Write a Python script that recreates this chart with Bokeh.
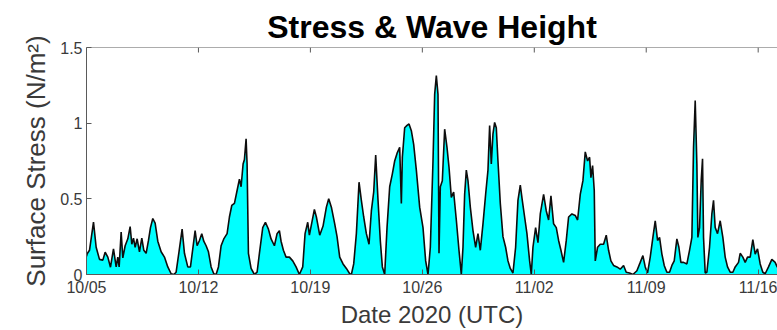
import math
from datetime import datetime, timedelta

from bokeh.embed import file_html
from bokeh.models import (ColumnDataSource, DatetimeTickFormatter, FixedTicker,
                          Range1d, Span)
from bokeh.plotting import figure
from bokeh.resources import INLINE

# Surface stress record, hours after 2020-10-05 00:00 UTC -> stress (N/m^2)
START = datetime(2020, 10, 5)

oct05_oct19 = [
    (0, 0.12), (1, 0.137), (4.5, 0.16), (10.5, 0.346), (14.5, 0.18), (19.5, 0.10),
    (24.5, 0.095), (28, 0.147), (32, 0.115), (36, 0.048), (40.5, 0.17), (44.5, 0.05),
    (47, 0.115), (49, 0.05), (52, 0.28), (54.5, 0.11), (58, 0.19), (62, 0.236),
    (65.5, 0.317), (68, 0.20), (70.5, 0.24), (73, 0.18), (76, 0.236), (79.5, 0.15),
    (83, 0.24), (86, 0.16), (89.5, 0.14), (93, 0.225), (96, 0.31), (99.5, 0.37),
    (103, 0.34), (107, 0.22), (112, 0.15), (117, 0.115), (122, 0.05), (127, 0.005),
    (131, 0.0), (134.5, 0.015), (138.5, 0.14), (143.5, 0.30), (147, 0.14), (152, 0.05),
    (156, 0.05), (159.5, 0.17), (163, 0.29), (166, 0.19), (169.5, 0.225), (173, 0.27),
    (176, 0.22), (179.5, 0.19), (183, 0.15), (187, 0.05), (191, 0.005), (194.5, 0.0),
    (198, 0.05), (202, 0.19), (206, 0.235), (211, 0.27), (214.5, 0.38), (218, 0.456),
    (222, 0.47), (226, 0.555), (229.5, 0.63), (232, 0.58), (235, 0.73), (237, 0.76),
    (239.5, 0.897), (241, 0.73), (243, 0.14), (247, 0.04), (252, 0.0), (256, 0.015),
    (259.5, 0.14), (264.5, 0.31), (268.5, 0.345), (273, 0.30), (277, 0.235), (282, 0.19),
    (286, 0.27), (289.5, 0.29), (292, 0.22), (295.5, 0.16), (299.5, 0.115), (304.5, 0.115),
    (309.5, 0.09), (314.5, 0.05), (319.5, 0.0), (324.5, 0.05), (328, 0.27), (332, 0.345),
    (334.5, 0.26), (338, 0.34), (342, 0.43),
]

oct19_nov02 = [
    (345, 0.38), (350, 0.26), (355, 0.32), (360, 0.445), (363.5, 0.50), (367.5, 0.445),
    (372.5, 0.335), (376, 0.25), (380, 0.115), (385, 0.07), (390, 0.04), (395, 0.005),
    (397.5, 0.0), (401, 0.07), (405, 0.27), (409, 0.61), (412.5, 0.49), (416, 0.38),
    (420, 0.27), (424, 0.20), (427.5, 0.42), (431, 0.545), (434, 0.79), (437.5, 0.49),
    (441, 0.22), (444, 0.05), (447.5, 0.0), (451, 0.31), (455, 0.58), (459, 0.665),
    (462.5, 0.75), (466, 0.80), (470, 0.84), (472.5, 0.47), (474, 0.775), (477.5, 0.97),
    (481, 0.985), (484, 0.995), (487.5, 0.95), (491, 0.86), (495, 0.69), (500, 0.445),
    (505, 0.31), (509, 0.09), (512.5, 0.0), (516, 0.18), (520, 0.75), (522.5, 1.19),
    (525, 1.315), (527.5, 1.19), (529, 0.14), (531, 0.58), (534, 0.62), (537.5, 0.96),
    (541, 0.84), (544, 0.71), (547.5, 0.51), (551, 0.545), (555, 0.36), (559, 0.16),
    (562.5, 0.0), (565, 0.18), (567.5, 0.53), (570, 0.69), (572.5, 0.62), (576, 0.445),
    (580, 0.29), (584, 0.18), (587.5, 0.27), (591, 0.16), (595, 0.335), (599, 0.53),
    (602.5, 0.69), (605, 0.985), (607.5, 0.73), (610, 0.93), (612.5, 1.005), (615, 0.97),
    (617.5, 0.75), (621, 0.47), (625, 0.25), (629, 0.18), (632.5, 0.09), (636, 0.04),
    (640, 0.01), (644, 0.18), (647.5, 0.49), (651, 0.59), (654, 0.49), (657.5, 0.38),
    (661, 0.27), (665, 0.09), (667.5, 0.0), (670, 0.18), (674, 0.31), (677.5, 0.21),
]

nov02_nov17 = [
    (681, 0.40), (686, 0.53), (690, 0.42), (693.5, 0.36), (697, 0.52), (701, 0.335),
    (705, 0.31), (708.5, 0.225), (712, 0.16), (716, 0.08), (720, 0.225), (723.5, 0.38),
    (728.5, 0.40), (733.5, 0.39), (737, 0.36), (741, 0.53), (745, 0.62), (748.5, 0.81),
    (752, 0.75), (755, 0.775), (757, 0.64), (759.5, 0.72), (762, 0.555), (763.5, 0.09),
    (767, 0.18), (771, 0.20), (776, 0.20), (780, 0.26), (783.5, 0.16), (787, 0.09),
    (791, 0.06), (796, 0.05), (801, 0.035), (806, 0.06), (810, 0.015), (815, 0.01),
    (820, 0.0), (826, 0.025), (831, 0.08), (835, 0.125), (838.5, 0.05), (842, 0.01),
    (846, 0.115), (850, 0.245), (853.5, 0.355), (857, 0.225), (860, 0.245), (863.5, 0.135),
    (867, 0.06), (871, 0.015), (875, 0.015), (878.5, 0.06), (882, 0.09), (886, 0.235),
    (889, 0.18), (892, 0.08), (896, 0.08), (901, 0.07), (905, 0.16), (908.5, 0.245),
    (911, 0.84), (913.5, 1.15), (916, 0.73), (917.5, 0.245), (920, 0.31), (922.5, 0.62),
    (924.5, 0.765), (926, 0.245), (928.5, 0.01), (931, 0.015), (935, 0.18), (938.5, 0.40),
    (941, 0.49), (943.5, 0.31), (947, 0.27), (951, 0.355), (955, 0.245), (958.5, 0.115),
    (962, 0.05), (966, 0.015), (970, 0.015), (973.5, 0.05), (978.5, 0.08), (981, 0.14),
    (985, 0.115), (988.5, 0.08), (992, 0.115), (996, 0.115), (1000, 0.23), (1003.5, 0.135),
    (1007, 0.17), (1011, 0.07), (1015, 0.015), (1018.5, 0.005), (1023.5, 0.05),
    (1028.5, 0.10), (1033.5, 0.08), (1036.5, 0.05), (1040, 0.04),
]

tick_dates = ["2020-10-05", "2020-10-12", "2020-10-19", "2020-10-26",
              "2020-11-02", "2020-11-09", "2020-11-16"]
y_ticks = [0, 0.5, 1, 1.5]
y_tick_labels = ["0", "0.5", "1", "1.5"]

TITLE = "Stress & Wave Height"
X_LABEL = "Date 2020 (UTC)"
Y_LABEL = "Surface Stress (N/m\u00b2)"

FONT = "Liberation Sans"
TEXT_GREY = "#3a3a3a"
AXIS_GREY = "#5a5a5a"

records = oct05_oct19 + oct19_nov02 + nov02_nov17
times = [START + timedelta(hours=h) for h, _ in records]
stress = [v for _, v in records]
src = ColumnDataSource(data=dict(t=times, s=stress))

tick_dt = [datetime.strptime(d, "%Y-%m-%d") for d in tick_dates]
tick_ms = [(d - datetime(1970, 1, 1)).total_seconds() * 1000.0 for d in tick_dt]

p = figure(
    width=777, height=330,
    x_axis_type="datetime",
    x_range=Range1d(START, START + timedelta(hours=1037)),
    y_range=Range1d(y_ticks[0], y_ticks[-1]),
    output_backend="svg", toolbar_location=None,
    min_border_left=86, min_border_right=0, min_border_top=47, min_border_bottom=56,
    background_fill_color="white", border_fill_color="white",
)
p.grid.visible = False
p.outline_line_color = None

# filled stress area with its outline
p.varea(x="t", y1=0, y2="s", source=src, fill_color="#00FFFF", fill_alpha=1.0)
p.line(x="t", y="s", source=src, line_color="#0d0d0d", line_width=1.6)

# top edge of the box, with short inward date ticks
p.add_layout(Span(location=y_ticks[-1], dimension="width",
                  line_color=AXIS_GREY, line_width=1))
p.ray(x=tick_dt, y=[y_ticks[-1]] * len(tick_dt), length=5, length_units="screen",
      angle=-math.pi / 2, line_color=AXIS_GREY, line_width=1)

# bottom date axis
fmt = "%m/%d"
xax = p.xaxis[0]
xax.ticker = FixedTicker(ticks=tick_ms)
xax.formatter = DatetimeTickFormatter(
    milliseconds=fmt, seconds=fmt, minsec=fmt, minutes=fmt, hourmin=fmt,
    hours=fmt, days=fmt, months=fmt, years=fmt)
xax.axis_label = X_LABEL

# left stress axis
yax = p.yaxis[0]
yax.ticker = FixedTicker(ticks=y_ticks)
yax.major_label_overrides = {t: lab for t, lab in zip(y_ticks, y_tick_labels)}
yax.axis_label = Y_LABEL

for ax in (xax, yax):
    ax.major_tick_in = 5
    ax.major_tick_out = 0
    ax.minor_tick_line_color = None
    ax.axis_line_color = AXIS_GREY
    ax.major_tick_line_color = AXIS_GREY
    ax.major_label_text_font = FONT
    ax.major_label_text_font_size = "16px"
    ax.major_label_text_color = TEXT_GREY
    ax.axis_label_text_font = FONT
    ax.axis_label_text_font_style = "normal"
    ax.axis_label_text_color = TEXT_GREY

xax.axis_label_text_font_size = "24px"
yax.axis_label_text_font_size = "26px"
xax.major_label_standoff = 4
xax.axis_label_standoff = 2
yax.major_label_standoff = 4
yax.axis_label_standoff = 6

p.title.text = TITLE
p.title.align = "center"
p.title.offset = 4
p.title.text_font = FONT
p.title.text_font_size = "32px"
p.title.text_font_style = "bold"
p.title.text_color = "black"
p.title.standoff = 6

open("out.html", "w").write(file_html(p, INLINE))
